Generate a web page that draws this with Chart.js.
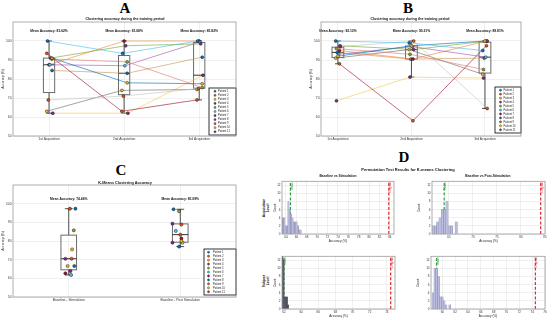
<!DOCTYPE html>
<html>
<head>
<meta charset="utf-8">
<script src="https://cdn.jsdelivr.net/npm/chart.js@4.4.1/dist/chart.umd.min.js"></script>
<style>
  body { margin: 0; width: 550px; height: 321px; background: #fff; position: relative; overflow: hidden; }
  canvas { position: absolute; }
  .lbl { position: absolute; white-space: nowrap; transform: translate(-50%, -50%);
         font-family: "Liberation Sans", Arial, sans-serif; font-weight: bold; color: #111; line-height: 1.1; }
  .big { font-family: "Liberation Serif", "DejaVu Serif", serif; font-size: 15px; color: #000; }
  .rot { transform: translate(-50%, -50%) rotate(-90deg); text-align: center; }
</style>
</head>
<body>
<script>
// ---------- values ----------
const patients = ['Patient 1', 'Patient 2', 'Patient 3', 'Patient 4', 'Patient 5', 'Patient 6',
                  'Patient 7', 'Patient 8', 'Patient 9', 'Patient 10', 'Patient 11'];
const acqLabels = ['1st Acquisition', '2nd Acquisition', '3rd Acquisition'];
const accTicks  = [50, 60, 70, 80, 90, 100];

// A: accuracy per patient at 1st / 2nd / 3rd acquisition
const trainA = [[100, 93.5, 100], [93.5, 63, 69], [91, 78, 77.5], [91, 97.5, 98.5],
                [90.5, 89, 75.5], [87.5, 87, 99.5], [87.5, 100, 100], [84.5, 83, 91.5],
                [69, 71, 75], [63, 74, 74.5], [62, 62, 82]];
const meanTextA = ['83.62', '81.68', '85.82'];
const jitterA   = [-0.02, -0.03, 0.04, 0.02, 0.04, 0.01, 0.0, 0.04, -0.01, -0.03, 0.05];

// B
const trainB = [[100, 99, 95], [88, 58, 97.5], [92, 97.5, 100], [97.5, 95.5, 100],
                [96, 93, 85], [93, 97, 91.5], [95, 90.5, 100], [94, 90.5, 91],
                [97, 100, 64.5], [91, 95.5, 82.5], [68.5, 81, 80.5]];
const meanTextB = ['92.10', '90.21', '89.81'];
const jitterB   = [-0.03, 0.02, 0.0, 0.03, -0.02, 0.01, 0.02, -0.01, 0.03, -0.03, -0.02];

// C
const condLabels = ['Baseline - Stimulation', 'Baseline - Post Stimulation'];
const kmStim = [97.3, 97.3, 66.6, 63.9, 85.7, 61.8, 62.7, 66.6, 70.5, 75.5, 70.5];
const kmPost = [97, 88.8, 80, 89.3, 96, 85.4, 81.4, 77, 83.4, 79.1, 79.1];
const meanTextC  = ['74.46', '85.09'];
const jitterStim = [0.06, 0.01, -0.01, 0.015, 0.045, 0.02, -0.03, 0.05, 0.025, 0.03, -0.03];
const jitterPost = [-0.06, 0.01, 0.01, -0.07, -0.01, -0.04, 0.01, -0.01, 0.0, 0.02, -0.07];

// D: permutation histograms (bin centre / count)
const permTitles   = ['Baseline vs Stimulation', 'Baseline vs Post-Stimulation'];
const binsAcqStim  = [63.43, 63.69, 63.95, 64.21, 64.47, 64.73, 64.99, 65.25, 65.51, 65.77, 66.03, 66.29, 66.55, 66.81];
const countAcqStim = [4, 4, 2, 2, 8, 6, 5, 4, 3, 3, 3, 2, 1, 1];
const binsAcqPost  = [61.7, 62.18, 62.66, 63.14, 63.62, 64.1, 64.58, 65.06, 65.54, 66.02, 66.5];
const countAcqPost = [2, 2, 3, 4, 6, 6, 8, 2, 2, 0, 3];
const binsSubStim  = [61.835, 61.965, 62.095, 62.225, 62.355, 62.485];
const countSubStim = [13, 12, 3, 3, 3, 1];
const binsSubPost  = [58.55, 58.84, 59.13, 59.42, 59.71, 60.0, 60.29, 60.58, 60.87, 61.16];
const countSubPost = [4, 10, 10, 8, 3, 3, 2, 1, 0, 1];
const permMean = [64.85, 64.0, 62.0, 59.1];
const permOrig = [83.8, 84.1, 74.45, 74.5];
const ticksAcqStim = [64, 66, 68, 70, 72, 74, 76, 78, 80, 82, 84];
const ticksAcqPost = [65, 70, 75, 80, 85];
const ticksSubStim = [62, 64, 66, 68, 70, 72, 74];
const ticksSubPost = [60, 62, 64, 66, 68, 70, 72, 74, 76];
const countTicks   = [0, 2, 4, 6, 8, 10, 12];

// ---------- styling ----------
const FONT = '"Liberation Sans", Arial, sans-serif';
Chart.defaults.font.family = FONT;
const lineColors = ['#4DBEEE', '#A2142F', '#0072BD', '#77AC30', '#E07B7B', '#A05BB5',
                    '#F08A3C', '#C8995A', '#C4C4C4', '#6E6E6E', '#F2C94C'];
const markColors = ['#0072BD', '#D95319', '#EDB120', '#7E2F8E', '#77AC30', '#4DBEEE',
                    '#A2142F', '#0072BD', '#D95319', '#EDB120', '#7E2F8E'];
const GRID = '#e6e6e6';

function rgba(hex, a) {
  const n = parseInt(hex.slice(1), 16);
  return `rgba(${n >> 16},${(n >> 8) & 255},${n & 255},${a})`;
}

function text(str, x, y, cls, size) {
  const d = document.createElement('div');
  d.className = 'lbl ' + (cls || '');
  d.innerHTML = str;
  d.style.left = x + 'px';
  d.style.top = y + 'px';
  if (size) d.style.fontSize = size + 'px';
  document.body.appendChild(d);
}

// canvas so that the chart area lands on frame [x0,y0,x1,y1]; pad = [left, top, right, bottom]
function place(frame, pad) {
  const c = document.createElement('canvas');
  const w = frame[2] - frame[0] + pad[0] + pad[2];
  const h = frame[3] - frame[1] + pad[1] + pad[3];
  c.width = w; c.height = h;
  c.style.left = (frame[0] - pad[0]) + 'px';
  c.style.top = (frame[1] - pad[1]) + 'px';
  c.style.width = w + 'px'; c.style.height = h + 'px';
  document.body.appendChild(c);
  return c;
}

function baseOpts(pad) {
  return {
    responsive: false, animation: false, devicePixelRatio: 1, events: [],
    layout: { padding: { left: 0, top: pad[1], right: pad[2], bottom: 0 }, autoPadding: false }
  };
}

// ---------- plugins ----------
const frameBox = {
  id: 'frameBox',
  afterDraw(chart) {
    const { ctx, chartArea: ca } = chart;
    ctx.save();
    ctx.strokeStyle = '#9a9a9a';
    ctx.lineWidth = 0.8;
    ctx.strokeRect(ca.left, ca.top, ca.width, ca.height);
    ctx.restore();
  }
};

function quant(s, p) {
  const n = s.length, pos = n * p + 0.5;
  if (pos <= 1) return s[0];
  if (pos >= n) return s[n - 1];
  const lo = Math.floor(pos), f = pos - lo;
  return s[lo - 1] + f * (s[lo] - s[lo - 1]);
}

const boxes = {
  id: 'boxes',
  beforeDatasetsDraw(chart, args, o) {
    if (!o.groups) return;
    const { ctx, scales: { x, y } } = chart;
    ctx.save();
    o.groups.forEach((vals, i) => {
      const s = vals.slice().sort((a, b) => a - b);
      const q1 = quant(s, 0.25), med = quant(s, 0.5), q3 = quant(s, 0.75), iqr = q3 - q1;
      const lo = s.find(v => v >= q1 - 1.5 * iqr), hi = s.slice().reverse().find(v => v <= q3 + 1.5 * iqr);
      const l = x.getPixelForValue(i + 1 - o.half), r = x.getPixelForValue(i + 1 + o.half);
      const c = x.getPixelForValue(i + 1), cw = (r - l) / 4;
      ctx.strokeStyle = '#222';
      ctx.lineWidth = 0.8;
      ctx.beginPath();
      ctx.moveTo(c, y.getPixelForValue(q3)); ctx.lineTo(c, y.getPixelForValue(hi));
      ctx.moveTo(c - cw, y.getPixelForValue(hi)); ctx.lineTo(c + cw, y.getPixelForValue(hi));
      ctx.moveTo(c, y.getPixelForValue(q1)); ctx.lineTo(c, y.getPixelForValue(lo));
      ctx.moveTo(c - cw, y.getPixelForValue(lo)); ctx.lineTo(c + cw, y.getPixelForValue(lo));
      ctx.stroke();
      ctx.strokeStyle = '#6a6a6a';
      ctx.lineWidth = 1;
      ctx.strokeRect(l, y.getPixelForValue(q3), r - l, y.getPixelForValue(q1) - y.getPixelForValue(q3));
      ctx.strokeStyle = '#333';
      ctx.beginPath();
      ctx.moveTo(l, y.getPixelForValue(med)); ctx.lineTo(r, y.getPixelForValue(med));
      ctx.stroke();
    });
    ctx.restore();
  }
};

const meanLabels = {
  id: 'meanLabels',
  afterDatasetsDraw(chart, args, o) {
    if (!o.texts) return;
    const { ctx, scales: { x, y } } = chart;
    ctx.save();
    ctx.font = `bold 3.3px ${FONT}`;
    ctx.fillStyle = '#111';
    ctx.textAlign = 'center';
    ctx.textBaseline = 'middle';
    o.texts.forEach((t, i) => ctx.fillText('Mean Accuracy: ' + t + '%', x.getPixelForValue(i + 1), y.getPixelForValue(o.at)));
    ctx.restore();
  }
};

const boxLegend = {
  id: 'boxLegend',
  afterDatasetsDraw(chart, args, o) {
    if (!o.w) return;
    const { ctx, chartArea: ca } = chart;
    const x0 = ca.right - o.right - o.w, y0 = ca.bottom - o.bottom - o.h;
    ctx.save();
    ctx.fillStyle = '#fff';
    ctx.fillRect(x0, y0, o.w, o.h);
    ctx.strokeStyle = '#000';
    ctx.lineWidth = 0.8;
    ctx.strokeRect(x0, y0, o.w, o.h);
    const ds = chart.data.datasets;
    const step = (o.h - 2.5) / ds.length;
    ds.forEach((d, i) => {
      const cy = y0 + 1.25 + step * (i + 0.5);
      ctx.beginPath();
      ctx.arc(x0 + o.mx, cy, 1.1, 0, 2 * Math.PI);
      ctx.fillStyle = d.pointBackgroundColor;
      ctx.fill();
      ctx.lineWidth = 0.3;
      ctx.strokeStyle = '#000';
      ctx.stroke();
      ctx.fillStyle = '#222';
      ctx.font = `2.7px ${FONT}`;
      ctx.textAlign = 'left';
      ctx.textBaseline = 'middle';
      ctx.fillText(d.label, x0 + o.tx, cy);
    });
    ctx.restore();
  }
};

const refLabels = {
  id: 'refLabels',
  afterDatasetsDraw(chart, args, o) {
    if (!o.items) return;
    const { ctx, scales: { x }, chartArea: ca } = chart;
    o.items.forEach(it => {
      ctx.save();
      ctx.translate(x.getPixelForValue(it.v) + 1.3, ca.top + 1);
      ctx.rotate(-Math.PI / 2);
      ctx.font = `3px ${FONT}`;
      ctx.fillStyle = it.color;
      ctx.textAlign = 'right';
      ctx.textBaseline = 'middle';
      ctx.fillText(it.text, 0, 0);
      ctx.restore();
    });
  }
};

// ---------- axes ----------
function accAxis(width) {
  return {
    type: 'linear', min: 50, max: 110,
    afterFit: s => { s.width = width; },
    afterBuildTicks: s => { s.ticks = accTicks.map(v => ({ value: v })); },
    ticks: { font: { size: 3.3 }, color: '#333', padding: 1.5 },
    grid: { color: GRID, lineWidth: 0.6, drawTicks: false },
    border: { display: false },
    title: { display: true, text: 'Accuracy (%)', font: { size: 3.3 }, color: '#222', padding: { top: 1.2, bottom: 0 } }
  };
}

function catAxis(range, labels, height) {
  return {
    type: 'linear', min: range[0], max: range[1],
    afterFit: s => { s.height = height; },
    afterBuildTicks: s => { s.ticks = labels.map((_, i) => ({ value: i + 1 })); },
    ticks: { callback: v => labels[v - 1], font: { size: 3.3 }, color: '#333', padding: 1, maxRotation: 0, autoSkip: false },
    grid: { color: GRID, lineWidth: 0.6, drawTicks: false },
    border: { display: false }
  };
}

// ---------- panels A / B ----------
function trainingChart(frame, pad, values, jitter, meanTexts, xRange, half, legendBox) {
  const datasets = values.map((v, i) => ({
    label: patients[i],
    data: v.map((y, k) => ({ x: k + 1 + jitter[i], y })),
    borderColor: rgba(lineColors[i], 0.8),
    borderWidth: 0.8,
    pointRadius: 1.5,
    pointBackgroundColor: markColors[i],
    pointBorderColor: '#000',
    pointBorderWidth: 0.4
  }));
  const groups = acqLabels.map((_, k) => values.map(v => v[k]));
  new Chart(place(frame, pad), {
    type: 'line',
    data: { datasets },
    options: Object.assign(baseOpts(pad), {
      scales: { x: catAxis(xRange, acqLabels, pad[3]), y: accAxis(pad[0]) },
      plugins: {
        legend: { display: false }, tooltip: { enabled: false },
        boxes: { groups, half },
        meanLabels: { texts: meanTexts, at: 105 },
        boxLegend: legendBox
      }
    }),
    plugins: [boxes, meanLabels, boxLegend, frameBox]
  });
}

trainingChart([13, 22, 236, 136], [13, 4, 3, 9], trainA, jitterA, meanTextA, [0.52, 3.49], 0.075,
              { w: 27, h: 47, right: 0, bottom: 1, mx: 6, tx: 9 });
trainingChart([321, 22, 521, 136], [13, 4, 3, 9], trainB, jitterB, meanTextB, [0.77, 3.49], 0.08,
              { w: 26, h: 46, right: 0, bottom: 3, mx: 5.5, tx: 8.5 });

// ---------- panel C ----------
(function () {
  const pad = [13, 4, 3, 9];
  const datasets = patients.map((p, i) => ({
    label: p,
    data: [{ x: 1 + jitterStim[i], y: kmStim[i] }, { x: 2 + jitterPost[i], y: kmPost[i] }],
    showLine: false,
    pointRadius: 1.6,
    pointBackgroundColor: markColors[i],
    pointBorderColor: '#000',
    pointBorderWidth: 0.4
  }));
  new Chart(place([13, 185, 236, 297], pad), {
    type: 'line',
    data: { datasets },
    options: Object.assign(baseOpts(pad), {
      scales: { x: catAxis([0.5, 2.5], condLabels, pad[3]), y: accAxis(pad[0]) },
      plugins: {
        legend: { display: false }, tooltip: { enabled: false },
        boxes: { groups: [kmStim, kmPost], half: 0.07 },
        meanLabels: { texts: meanTextC, at: 102.5 },
        boxLegend: { w: 32, h: 46, right: 0, bottom: 2, mx: 4.5, tx: 9 }
      }
    }),
    plugins: [boxes, meanLabels, boxLegend, frameBox]
  });
})();

// ---------- panel D ----------
function permChart(frame, pad, bins, counts, ticks, range, mean, orig, fill, edge) {
  const vline = (v, color) => ({
    type: 'line', data: [{ x: v, y: 0 }, { x: v, y: 13 }],
    borderColor: color, borderWidth: 1.2, borderDash: [3, 1.8], pointRadius: 0
  });
  new Chart(place(frame, pad), {
    type: 'bar',
    data: {
      datasets: [
        { type: 'bar', data: bins.map((x, i) => ({ x, y: counts[i] })), backgroundColor: fill,
          borderColor: edge, borderWidth: 0.4, barPercentage: 1, categoryPercentage: 1 },
        vline(mean, '#2f9e3c'),
        vline(orig, '#e3262d')
      ]
    },
    options: Object.assign(baseOpts(pad), {
      scales: {
        x: {
          type: 'linear', min: range[0], max: range[1], offset: false,
          afterFit: s => { s.height = pad[3]; },
          afterBuildTicks: s => { s.ticks = ticks.map(v => ({ value: v })); },
          ticks: { font: { size: 3 }, color: '#333', padding: 1, maxRotation: 0, autoSkip: false },
          grid: { color: GRID, lineWidth: 0.6, drawTicks: false, offset: false },
          border: { display: false },
          title: { display: true, text: 'Accuracy (%)', font: { size: 3.1 }, color: '#222', padding: 0 }
        },
        y: {
          type: 'linear', min: 0, max: 13,
          afterFit: s => { s.width = pad[0]; },
          afterBuildTicks: s => { s.ticks = countTicks.map(v => ({ value: v })); },
          ticks: { font: { size: 3 }, color: '#333', padding: 1.5 },
          grid: { color: GRID, lineWidth: 0.6, drawTicks: false },
          border: { display: false },
          title: { display: true, text: 'Count', font: { size: 3.1 }, color: '#222', padding: { top: 1, bottom: 0 } }
        }
      },
      plugins: {
        legend: { display: false }, tooltip: { enabled: false },
        refLabels: { items: [{ v: mean, text: 'Mean', color: '#2f9e3c' }, { v: orig, text: 'Original', color: '#e3262d' }] }
      }
    }),
    plugins: [refLabels, frameBox]
  });
}

const lav = '#bcbcdf', lavEdge = '#7f7fa0';
permChart([282, 181, 394, 234], [10, 3, 3, 9], binsAcqStim, countAcqStim, ticksAcqStim, [63.23, 84.8], permMean[0], permOrig[0], lav, lavEdge);
permChart([432, 181, 545, 234], [16, 3, 3, 9], binsAcqPost, countAcqPost, ticksAcqPost, [61.46, 85.0], permMean[1], permOrig[1], lav, lavEdge);
permChart([282, 256, 395, 309], [10, 3, 3, 9], binsSubStim, countSubStim, ticksSubStim, [61.77, 74.95], permMean[2], permOrig[2], '#5e5e72', '#2a2a2a');
permChart([431, 256, 545, 309], [16, 3, 3, 9], binsSubPost, countSubPost, ticksSubPost, [58.24, 76.0], permMean[3], permOrig[3], lav, lavEdge);

// ---------- titles ----------
text('A', 125, 8, 'big');
text('B', 408, 8, 'big');
text('C', 121, 170, 'big');
text('D', 404, 157, 'big');
text('Clustering accuracy during the training period', 125, 20, '', 3.6);
text('Clustering accuracy during the training period', 410, 20, '', 3.6);
text('K-Means Clustering Accuracy', 125, 183, '', 3.8);
text('Permutation Test Results for K-means Clustering', 408, 170, '', 4);
text(permTitles[0], 338, 176.5, '', 3.3);
text(permTitles[1], 488, 176.5, '', 3.3);
text('Acquisition<br>Level', 267, 208, 'rot', 3.4);
text('Subject<br>Level', 267, 281, 'rot', 3.4);
</script>
</body>
</html>
